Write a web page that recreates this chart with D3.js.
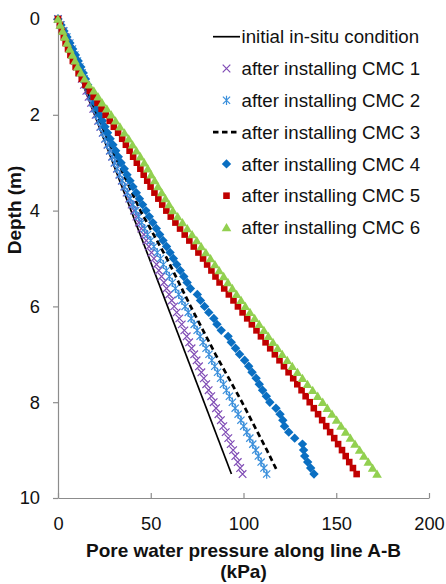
<!DOCTYPE html>
<html lang="en">
<head>
  <meta charset="utf-8">
  <title>Pore water pressure along line A-B</title>
  <script src="https://d3js.org/d3.v7.min.js"></script>
  <style>
    body { margin: 0; background: #fff; }
    text { font-family: "Liberation Sans", Arial, Helvetica, sans-serif; fill: #111; }
  </style>
</head>
<body>
<script>
// depth of the result nodes along line A-B (m)
var depth = [
  0, 0.125, 0.25, 0.375, 0.5, 0.625, 0.75, 0.875,
  1, 1.125, 1.25, 1.375, 1.5, 1.625, 1.75, 1.875,
  2, 2.125, 2.25, 2.375, 2.5, 2.625, 2.75, 2.875,
  3, 3.125, 3.25, 3.375, 3.5, 3.625, 3.75, 3.875,
  4, 4.125, 4.25, 4.375, 4.5, 4.625, 4.75, 4.875,
  5, 5.125, 5.25, 5.375, 5.5, 5.625, 5.75, 5.875,
  6, 6.125, 6.25, 6.375, 6.5, 6.625, 6.75, 6.875,
  7, 7.125, 7.25, 7.375, 7.5, 7.625, 7.75, 7.875,
  8, 8.125, 8.25, 8.375, 8.5, 8.625, 8.75, 8.875,
  9, 9.125, 9.25, 9.375, 9.5
];

// pore water pressure (kPa)
var cmc1 = [
  0, 1.3, 2.6, 3.9, 5.2, 6.5, 7.8, 9.1,
  10.3, 11.6, 12.8, 14.0, 15.3, 16.5, 17.8, 19.0,
  20.3, 21.6, 22.8, 24.1, 25.4, 26.7, 28.0, 29.2,
  30.5, 31.8, 33.1, 34.4, 35.7, 37.0, 38.4, 39.7,
  41.0, 42.3, 43.6, 44.9, 46.3, 47.6, 49.0, 50.4,
  51.7, 53.1, 54.4, 55.8, 57.1, 58.5, 59.9, 61.3,
  62.6, 64.0, 65.4, 66.7, 68.1, 69.4, 70.7, 72.0,
  73.4, 74.7, 76.0, 77.3, 78.6, 79.9, 81.2, 82.6,
  83.9, 85.2, 86.5, 87.8, 89.1, 90.4, 91.8, 93.1,
  94.4, 95.6, 96.9, 98.2, 99.5
];
var cmc2 = [
  0, 1.6, 3.2, 4.8, 6.4, 7.8, 9.1, 10.5,
  11.8, 13.0, 14.1, 15.2, 16.3, 17.4, 18.5, 19.6,
  20.7, 21.9, 23.0, 24.2, 25.4, 26.7, 27.9, 29.2,
  30.5, 31.9, 33.2, 34.6, 35.9, 37.4, 38.9, 40.4,
  41.9, 43.5, 45.1, 46.7, 48.3, 50.0, 51.7, 53.5,
  55.2, 56.8, 58.4, 60.0, 61.6, 63.3, 65.1, 66.8,
  68.5, 70.2, 71.8, 73.4, 75.0, 76.6, 78.2, 79.8,
  81.4, 82.9, 84.5, 86.0, 87.6, 89.2, 90.8, 92.4,
  94.0, 95.5, 97.1, 98.6, 100.1, 101.8, 103.4, 105.0,
  106.6, 108.0, 109.5, 111.0, 112.5
];
var cmc4 = [
  0, 1.6, 3.2, 4.8, 6.4, 7.9, 9.4, 10.9,
  12.3, 13.6, 14.8, 16.0, 17.3, 18.6, 19.9, 21.2,
  22.5, 23.9, 25.3, 26.7, 28.1, 29.6, 31.1, 32.5,
  34.0, 35.7, 37.2, 38.8, 40.4, 42.2, 43.9, 45.6,
  47.4, 49.2, 51.1, 53.0, 54.8, 56.6, 58.5, 60.4,
  62.2, 64.0, 65.9, 67.8, 69.6, 71.4, 75.1, 76.8,
  79.0, 81.3, 84.0, 85.7, 88.0, 91.7, 93.4, 95.7,
  97.9, 100.6, 102.8, 104.6, 106.8, 108.5, 110.3, 112.3,
  114.2, 117.5, 119.7, 121.2, 122.1, 124.4, 127.6, 131.8,
  132.4, 133.0, 134.6, 136.2, 138.0
];
var cmc5 = [
  0, 1.0, 2.1, 3.1, 4.1, 5.4, 6.7, 8.0,
  9.5, 11.1, 12.8, 14.8, 17.1, 19.2, 21.3, 23.5,
  25.7, 27.9, 30.1, 32.4, 34.6, 36.6, 38.6, 40.5,
  42.5, 44.4, 46.2, 48.1, 49.9, 52.0, 54.1, 56.2,
  58.4, 60.8, 63.3, 65.8, 68.3, 70.8, 73.2, 75.7,
  78.2, 80.4, 82.7, 84.9, 87.1, 89.6, 92.1, 94.6,
  97.0, 99.5, 102.0, 104.5, 107.0, 109.4, 111.9, 114.4,
  116.9, 119.4, 121.8, 124.3, 126.8, 129.0, 131.3, 133.5,
  135.7, 137.9, 140.2, 142.4, 144.6, 146.7, 148.9, 151.0,
  153.1, 155.1, 157.0, 159.0, 161.0
];
var cmc6 = [
  0, 1.2, 2.5, 3.7, 4.9, 6.3, 7.8, 9.2,
  10.6, 12.4, 14.3, 16.7, 19.3, 21.6, 23.8, 26.3,
  28.7, 31.0, 33.4, 35.8, 38.1, 40.2, 42.3, 44.4,
  46.5, 48.4, 50.2, 52.1, 53.9, 55.9, 57.9, 59.9,
  61.9, 64.5, 67.1, 69.7, 72.3, 74.8, 77.2, 79.7,
  82.2, 84.6, 86.9, 89.3, 91.6, 94.0, 96.3, 98.7,
  101.0, 103.5, 106.0, 108.5, 111.0, 113.4, 115.9, 118.4,
  120.9, 123.6, 126.3, 129.1, 131.8, 134.5, 137.3, 140.0,
  142.7, 145.2, 147.7, 150.2, 152.6, 155.1, 157.6, 160.1,
  162.6, 164.9, 167.3, 169.6, 172.0
];

// the two line series
var initialDepth = [0, 9.5];
var initialPwp = [0, 93.5];
var cmc3Depth = [0, 1, 2, 3, 4, 5, 6, 7, 7.6, 8, 9, 9.45];
var cmc3 = [0, 10.8, 21.2, 32.5, 44.4, 58.7, 71.5, 84.9, 93.5, 99.2, 112.6, 118.3];

var xTicks = [0, 50, 100, 150, 200];
var yTicks = [0, 2, 4, 6, 8, 10];

var legendLabels = [
  "initial in-situ condition",
  "after installing CMC 1",
  "after installing CMC 2",
  "after installing CMC 3",
  "after installing CMC 4",
  "after installing CMC 5",
  "after installing CMC 6"
];

var w = 446;
var h = 584;

var x = d3.scaleLinear().domain([0, 200]).range([58, 429]);
var y = d3.scaleLinear().domain([0, 10]).range([19, 498]);

var svg = d3.select("body")
  .append("svg")
  .attr("width", w)
  .attr("height", h);

// axes
var axisColor = "#8c8c8c";

svg.append("g")
  .attr("transform", "translate(" + x(0) + ",0)")
  .call(d3.axisLeft(y).tickValues(yTicks).tickSizeInner(5).tickSizeOuter(0).tickPadding(13).tickFormat(d3.format("d")));

svg.append("g")
  .attr("transform", "translate(0," + y(10) + ")")
  .call(d3.axisBottom(x).tickValues(xTicks).tickSizeInner(-5).tickSizeOuter(0).tickPadding(19).tickFormat(d3.format("d")));

svg.selectAll(".domain, .tick line")
  .attr("stroke", axisColor)
  .attr("stroke-width", 1.2);
svg.selectAll(".tick text")
  .style("font-size", "18.3px")
  .style("font-family", "'Liberation Sans', Arial, sans-serif")
  .attr("fill", "#111");

// axis titles
svg.append("text")
  .attr("text-anchor", "middle")
  .attr("x", (x(0) + x(200)) / 2)
  .attr("y", 557)
  .style("font-size", "19px")
  .style("font-weight", "bold")
  .text("Pore water pressure along line A-B");

svg.append("text")
  .attr("text-anchor", "middle")
  .attr("x", (x(0) + x(200)) / 2)
  .attr("y", 578)
  .style("font-size", "19px")
  .style("font-weight", "bold")
  .text("(kPa)");

svg.append("text")
  .attr("text-anchor", "middle")
  .attr("transform", "translate(21,210) rotate(-90)")
  .style("font-size", "19px")
  .style("font-weight", "bold")
  .text("Depth (m)");

// marker shapes
var shapes = {
  cross: "M-3.8,-3.8L3.8,3.8M3.8,-3.8L-3.8,3.8",
  star: "M-3.6,-3.6L3.6,3.6M3.6,-3.6L-3.6,3.6M0,-4.6L0,4.6",
  diamond: "M0,-4.7L4.7,0L0,4.7L-4.7,0Z",
  square: "M-3.3,-3.3L3.3,-3.3L3.3,3.3L-3.3,3.3Z",
  triangle: "M0,-4.6L4.8,3.7L-4.8,3.7Z"
};

var purple = "#7f4bb5";
var lightBlue = "#3a8fdb";
var blue = "#0a6fc2";
var red = "#c00000";
var green = "#92d050";

function pairs(zs, us) {
  return zs.map(function (z, i) { return { z: z, u: us[i] }; });
}

var line = d3.line()
  .x(function (d) { return x(d.u); })
  .y(function (d) { return y(d.z); });

function drawLine(data, dash) {
  svg.append("path")
    .datum(data)
    .attr("d", line)
    .attr("fill", "none")
    .attr("stroke", "#000")
    .attr("stroke-width", dash ? 2.7 : 1.7)
    .attr("stroke-dasharray", dash ? "5.5,3.5" : null);
}

function drawMarkers(data, shape, color, filled) {
  svg.append("g")
    .selectAll("path")
    .data(data)
    .enter()
    .append("path")
    .attr("transform", function (d) { return "translate(" + x(d.u) + "," + y(d.z) + ")"; })
    .attr("d", shapes[shape])
    .attr("fill", filled ? color : "none")
    .attr("stroke", filled ? "none" : color)
    .attr("stroke-width", 1.2);
}

drawLine(pairs(initialDepth, initialPwp), false);
drawMarkers(pairs(depth, cmc1), "cross", purple, false);
drawMarkers(pairs(depth, cmc2), "star", lightBlue, false);
drawLine(pairs(cmc3Depth, cmc3), true);
drawMarkers(pairs(depth, cmc4), "diamond", blue, true);
drawMarkers(pairs(depth, cmc5), "square", red, true);
drawMarkers(pairs(depth, cmc6), "triangle", green, true);

// legend
var legend = svg.append("g");
var legendItems = [
  { kind: "line" },
  { kind: "cross", color: purple, filled: false },
  { kind: "star", color: lightBlue, filled: false },
  { kind: "dash" },
  { kind: "diamond", color: blue, filled: true },
  { kind: "square", color: red, filled: true },
  { kind: "triangle", color: green, filled: true }
];

legendItems.forEach(function (item, i) {
  var ly = 36.7 + i * 31.8;
  if (item.kind === "line" || item.kind === "dash") {
    legend.append("line")
      .attr("x1", 213).attr("x2", 240)
      .attr("y1", ly).attr("y2", ly)
      .attr("stroke", "#000")
      .attr("stroke-width", item.kind === "dash" ? 2.7 : 1.7)
      .attr("stroke-dasharray", item.kind === "dash" ? "5.5,3.5" : null);
  } else {
    legend.append("path")
      .attr("transform", "translate(226.5," + ly + ")")
      .attr("d", shapes[item.kind])
      .attr("fill", item.filled ? item.color : "none")
      .attr("stroke", item.filled ? "none" : item.color)
      .attr("stroke-width", 1.2);
  }
  legend.append("text")
    .attr("x", 241.5)
    .attr("y", ly + 6.6)
    .style("font-size", "18.7px")
    .text(legendLabels[i]);
});
</script>
</body>
</html>
